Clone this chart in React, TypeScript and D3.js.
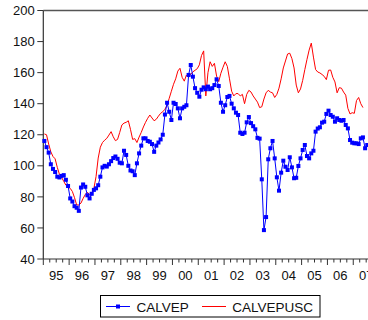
import React from 'react';
import { scaleLinear, line } from 'd3';

// monthly observations, Jan 1995 onwards
const calvep = [
  116, 112, 108.5, 101, 98, 96, 93, 92.5, 93.5, 94, 91, 87,
  79, 77, 74, 73, 71, 86, 88, 86.5, 81, 79, 82, 84.5,
  85.5, 87.5, 93, 99, 100, 99.5, 101, 103, 105, 106, 104.5, 102,
  101.6, 109.7, 107, 100, 97, 96.5, 94, 101.6, 108, 113, 117.7, 117.7,
  116, 115.5, 114, 109, 113, 115, 117, 120, 133, 140.6, 134.8, 129.5,
  140.6, 139.8, 137, 130.6, 137, 138, 139, 158.5, 164.9, 157.4, 150, 147,
  144.5, 149, 150.5, 149.3, 151, 149.3, 150, 152, 155.7, 151.4, 140.6, 134.8,
  139, 144.3, 145, 140, 137, 134.2, 132.7, 121.3, 120.5, 121.3, 128, 131.4,
  127.5, 125.5, 123.5, 118, 117.5, 91.3, 58.6, 67, 104.2, 111.3, 116, 104.8,
  92.6, 84, 95.6, 103.3, 99.4, 97.3, 105.5, 99, 92, 92.3, 99.9, 104.8,
  110.2, 113.4, 106.3, 104.8, 108, 109.7, 122, 124, 124.8, 127.8, 128.4, 133.4,
  135.5, 132.7, 131.6, 128.4, 130.6, 129.5, 129, 129.5, 126.3, 124.1, 116.6, 114.9,
  114.5, 114.5, 114, 117.7, 118.3, 111.3, 113.4,
];

const calvepusc = [
  120.5, 120, 114, 109, 106, 104.5, 99, 94.5, 92.5, 90, 87.5, 86.5,
  85.5, 83.5, 79.5, 74.8, 74.8, 76, 79, 81.5, 83, 81.2, 81.2, 85.5,
  93, 105, 112, 115, 116.5, 117.7, 119.8, 122, 118.7, 116.2, 117, 121.5,
  126.3, 127.5, 128, 129, 123.5, 117, 117.5, 115, 118.5, 121.5, 125, 128,
  130.6, 132.7, 130.8, 129, 130, 132, 133.8, 134.8, 136.4, 139, 143.5, 148,
  152.5, 156, 161, 162.8, 157, 154.5, 158.5, 157, 159, 160.5, 161.5, 162.5,
  165, 171, 174, 145, 160, 167, 164, 166, 157.8, 154.2, 159.6, 163.5,
  167, 164, 156, 148, 145, 146.5, 146.5, 145, 146, 140, 146, 148.6,
  147.5, 145, 143, 141, 137.5, 138, 143, 147, 148.6, 147.5, 147, 144,
  146, 150, 156, 163, 167.5, 172, 172.5, 169, 163, 152, 147, 149.5,
  155, 162, 168.5, 174.5, 179, 170, 162, 160.4, 159.8, 158.8, 157.6, 155.5,
  161.5, 161.7, 157, 154, 147, 150.3, 150, 147.5, 145.5, 137, 133.4, 134.2,
  133.8, 142, 144, 140, 137.5,
];

const years = ['95', '96', '97', '98', '99', '00', '01', '02', '03', '04', '05', '06', '07'];
const yTicks = [40, 60, 80, 100, 120, 140, 160, 180, 200];
const seriesNames = ['CALVEP', 'CALVEPUSC'];

export default function App() {
  const width = 368;
  const height = 320;
  const left = 43.3;
  const top = 10.5;
  const bottom = 259;
  const yearW = 25.83;

  const x = scaleLinear().domain([1995, 2008]).range([left, left + 13 * yearW]);
  const y = scaleLinear().domain([40, 200]).range([bottom, top]);
  const t = (i: number) => 1995 + (i + 0.5) / 12;

  const path = line<number>().x((d, i) => x(t(i))).y(d => y(d));

  const quarters: number[] = [];
  for (let q = 0; q <= 13 * 4; q++) quarters.push(1995 + q / 4);

  const font = "'Liberation Sans', Arial, sans-serif";
  const axisCol = '#333';

  return (
    <svg width={width} height={height} style={{ position: 'absolute', left: 0, top: 0 }}>
      <rect width={width} height={height} fill="#fff" />
      {/* frame */}
      <line x1={left} x2={width + 5} y1={top} y2={top} stroke="#555" strokeWidth={1.4} />
      <line x1={left} x2={left} y1={top} y2={bottom} stroke={axisCol} strokeWidth={1.2} />
      <line x1={left} x2={width + 5} y1={bottom} y2={bottom} stroke={axisCol} strokeWidth={1.2} />

      {yTicks.map(v => (
        <g key={v}>
          <line x1={left - 6} x2={left} y1={y(v)} y2={y(v)} stroke={axisCol} />
          <text x={left - 8.5} y={y(v)} dy="0.36em" textAnchor="end" fontFamily={font} fontSize={13} fill="#111">
            {v}
          </text>
        </g>
      ))}

      {quarters.map((q, i) => (
        <line key={i} x1={x(q)} x2={x(q)} y1={bottom} y2={bottom + (i % 4 === 0 ? 6 : 3.5)} stroke={axisCol} />
      ))}
      {years.map((lab, i) => (
        <text key={lab} x={x(1995 + i + 0.5)} y={279.5} textAnchor="middle" fontFamily={font} fontSize={13} fill="#111">
          {lab}
        </text>
      ))}

      <path d={path(calvepusc) || ''} fill="none" stroke="#ff0000" strokeWidth={1} />
      <path d={path(calvep) || ''} fill="none" stroke="#0000ff" strokeWidth={1} />
      {calvep.map((d, i) => (
        <rect key={i} x={x(t(i)) - 2} y={y(d) - 2} width={4} height={4} fill="#0000ff" />
      ))}

      {/* legend */}
      <rect x={100.5} y={295.5} width={219.5} height={21.5} fill="#fff" stroke="#000" strokeWidth={1} />
      <line x1={106} x2={130} y1={306.5} y2={306.5} stroke="#0000ff" />
      <rect x={116} y={304.5} width={4} height={4} fill="#0000ff" />
      <text x={136.5} y={311.5} fontFamily={font} fontSize={13.5} fill="#111">{seriesNames[0]}</text>
      <line x1={202} x2={226} y1={306.5} y2={306.5} stroke="#ff0000" />
      <text x={232.3} y={311.5} fontFamily={font} fontSize={13.5} fill="#111">{seriesNames[1]}</text>
    </svg>
  );
}
